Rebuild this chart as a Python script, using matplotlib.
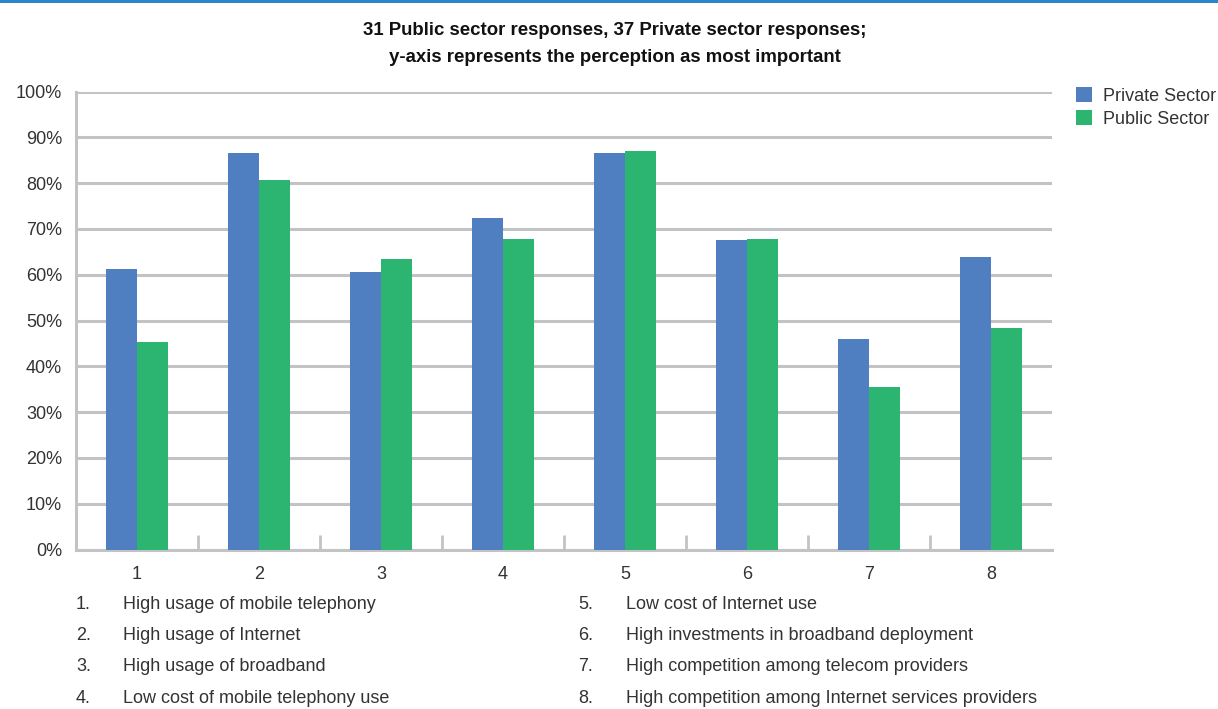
import matplotlib
matplotlib.use("Agg")
import matplotlib.pyplot as plt
from matplotlib.patches import Rectangle
import numpy as np

plt.rcParams['font.family'] = ['Liberation Sans', 'DejaVu Sans']

# Data
categories = [1, 2, 3, 4, 5, 6, 7, 8]
private_sector = [61.2, 86.6, 60.6, 72.4, 86.6, 67.6, 45.9, 63.9]
public_sector = [45.2, 80.6, 63.4, 67.7, 87.1, 67.7, 35.5, 48.4]
y_ticks = [0, 10, 20, 30, 40, 50, 60, 70, 80, 90, 100]
series_names = ["Private Sector", "Public Sector"]
title_lines = ["31 Public sector responses, 37 Private sector responses;",
               "y-axis represents the perception as most important"]
factor_labels = [
    "High usage of mobile telephony",
    "High usage of Internet",
    "High usage of broadband",
    "Low cost of mobile telephony use",
    "Low cost of Internet use",
    "High investments in broadband deployment",
    "High competition among telecom providers",
    "High competition among Internet services providers",
]

BLUE = "#4f7fc1"
GREEN = "#2bb570"
GRID = "#c3c3c6"
TEXT = "#333333"
FS = 13

fig = plt.figure(figsize=(12.18, 7.09), dpi=100)
fig.patch.set_facecolor("white")

# Thin blue rule along the top edge
fig.patches.append(Rectangle((0, 1 - 3 / 709), 1, 3 / 709, transform=fig.transFigure,
                             facecolor="#2a86c8", edgecolor="none"))

ax = fig.add_axes([76 / 1218, 1 - 549.5 / 709, 976 / 1218, 458 / 709])

x = np.array(categories, dtype=float)
w = 0.254
ax.bar(x - w / 2, private_sector, width=w, color=BLUE, label=series_names[0], zorder=3)
ax.bar(x + w / 2, public_sector, width=w, color=GREEN, label=series_names[1], zorder=3)

ax.set_xlim(0.5, 8.5)
ax.set_ylim(0, 100)
ax.set_yticks(y_ticks)
ax.set_yticklabels([f"{t}%" for t in y_ticks])
ax.set_xticks(categories)
ax.set_xticklabels([str(c) for c in categories])
ax.set_xticks(np.arange(1.5, 8.5, 1.0), minor=True)

ax.yaxis.grid(True, color=GRID, linewidth=2.2, zorder=0)
ax.set_axisbelow(True)
for s in ["top", "right"]:
    ax.spines[s].set_visible(False)
for s in ["left", "bottom"]:
    ax.spines[s].set_color(GRID)
    ax.spines[s].set_linewidth(2.2)
    ax.spines[s].set_zorder(1)

ax.tick_params(axis="y", length=0, pad=10, labelsize=FS, labelcolor=TEXT)
ax.tick_params(axis="x", which="major", length=0, pad=12, labelsize=FS, labelcolor=TEXT)
ax.tick_params(axis="x", which="minor", direction="in", length=11, width=2, color=GRID)

# Two-line bold heading
for line, ypix in zip(title_lines, [35, 62]):
    fig.text(0.505, 1 - ypix / 709, line, ha="center", va="baseline",
             fontsize=13.4, fontweight="bold", color="#111111")

leg = fig.legend(loc="upper left", bbox_to_anchor=(1076 / 1218, 1 - 87 / 709),
                 frameon=False, fontsize=FS, handlelength=0.9, handleheight=0.9,
                 handletextpad=0.6, labelspacing=0.3, borderaxespad=0, borderpad=0)
for t in leg.get_texts():
    t.set_color(TEXT)

# Numbered key below the axis
rows_y = [609, 640, 671, 703]
for i, label in enumerate(factor_labels):
    col = i // 4
    row = i % 4
    xn = (76 if col == 0 else 578) / 1218
    xt = (123 if col == 0 else 626) / 1218
    yy = 1 - rows_y[row] / 709
    fig.text(xn, yy, f"{i + 1}.", ha="left", va="baseline", fontsize=FS, color=TEXT)
    fig.text(xt, yy, label, ha="left", va="baseline", fontsize=FS, color=TEXT)

fig.savefig("out.png", dpi=100, facecolor="white")
